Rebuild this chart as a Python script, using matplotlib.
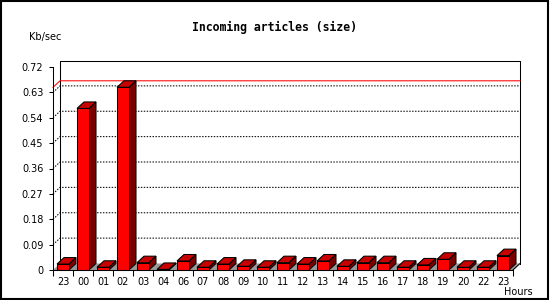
import matplotlib
matplotlib.use('Agg')
import matplotlib.pyplot as plt
from matplotlib.patches import Polygon, Rectangle
from matplotlib.lines import Line2D

# data
hours = ['23', '00', '01', '02', '03', '04', '06', '07', '08', '09', '10', '11',
         '12', '13', '14', '15', '16', '17', '18', '19', '20', '22', '23']
kbsec = [0.021, 0.573, 0.0096, 0.648, 0.026, 0.002, 0.032, 0.0096, 0.021, 0.013,
         0.0096, 0.026, 0.021, 0.032, 0.013, 0.026, 0.026, 0.0096, 0.018, 0.038,
         0.0096, 0.0096, 0.051]
yticks = [0, 0.09, 0.18, 0.27, 0.36, 0.45, 0.54, 0.63, 0.72]
ylabels = ['0', '0.09', '0.18', '0.27', '0.36', '0.45', '0.54', '0.63', '0.72']

W, H = 550, 300
DX, DY = 7, 6.5   # 3d depth in pixels
BW = 0.6          # bar width (category units)

fig = plt.figure(figsize=(5.5, 3), dpi=100)
ax = fig.add_axes([53 / W, 30 / H, 460 / W, 203 / H])
n = len(hours)
ax.set_xlim(-0.5, n - 0.5)
ax.set_ylim(0, 0.72)

def off(x, y):
    # shift a data point back by the 3d depth
    p = ax.transData.transform((x, y))
    return tuple(ax.transData.inverted().transform((p[0] + DX, p[1] + DY)))

x0, x1 = -0.5, n - 0.5
blk = 0.75

# floor
floor = Polygon([(x0, 0), (x1, 0), off(x1, 0), off(x0, 0)], closed=True,
                facecolor='#9a9a9a', edgecolor='none', clip_on=False, zorder=1)
ax.add_patch(floor)
bx1, by1 = off(x1, 0)
ax.plot([x1, bx1], [0, by1], color='black', lw=blk, clip_on=False, zorder=2)

# back wall frame
bl = off(x0, 0)
tl = off(x0, 0.72)
tr = off(x1, 0.72)
br = off(x1, 0)
ax.plot([bl[0], tl[0], tr[0], br[0]], [bl[1], tl[1], tr[1], br[1]],
        color='black', lw=blk, clip_on=False, zorder=2)

# dotted grid on back wall
for v in yticks[1:-1]:
    a = off(x0, v)
    b = off(x1, v)
    ax.plot([x0, a[0], b[0]], [v, a[1], b[1]], color='black', lw=blk,
            linestyle=(0, (1.4, 1.4)), clip_on=False, zorder=2)

# max line
m = max(kbsec)
a = off(x0, m)
b = off(x1, m)
ax.plot([x0, a[0], b[0]], [m, a[1], b[1]], color='#ff0000', lw=blk,
        clip_on=False, zorder=2)

# bars
for i, v in enumerate(kbsec):
    l, r = i - BW / 2, i + BW / 2
    top = Polygon([(l, v), (r, v), off(r, v), off(l, v)], closed=True,
                  facecolor='#c80000', edgecolor='black', lw=blk,
                  clip_on=False, zorder=3)
    side = Polygon([(r, 0), off(r, 0), off(r, v), (r, v)], closed=True,
                   facecolor='#7a0000', edgecolor='black', lw=blk,
                   clip_on=False, zorder=3)
    ax.add_patch(top)
    ax.add_patch(side)
ax.bar(range(n), kbsec, width=BW, color='#ff0000', edgecolor='black',
       linewidth=blk, zorder=4, clip_on=False)

for s in ['top', 'right']:
    ax.spines[s].set_visible(False)
for s in ['left', 'bottom']:
    ax.spines[s].set_linewidth(blk)
    ax.spines[s].set_zorder(5)

ax.set_yticks(yticks)
ax.set_yticklabels(ylabels)
ax.set_xticks(range(n))
ax.set_xticklabels(hours)
ax.set_xticks([i - 0.5 for i in range(n + 1)], minor=True)
ax.tick_params(axis='y', length=3, width=blk, pad=4, labelsize=7)
ax.tick_params(axis='x', which='major', length=0, pad=5, labelsize=7)
ax.tick_params(axis='x', which='minor', length=4, width=blk)
ax.patch.set_visible(False)

fig.text(275 / W, 1 - 27 / H, 'Incoming articles (size)', ha='center', va='center',
         family='DejaVu Sans Mono', weight='bold', fontsize=8.3)
fig.text(29 / W, 1 - 37 / H, 'Kb/sec', ha='left', va='center', fontsize=7)
fig.text(533 / W, 1 - 292 / H, 'Hours', ha='right', va='center', fontsize=7)

fig.add_artist(Rectangle((0.7 / W, 0.7 / H), 547.5 / W, 298 / H,
                         transform=fig.transFigure, fill=False,
                         edgecolor='black', lw=1.5))

fig.savefig('out.png', dpi=100)
